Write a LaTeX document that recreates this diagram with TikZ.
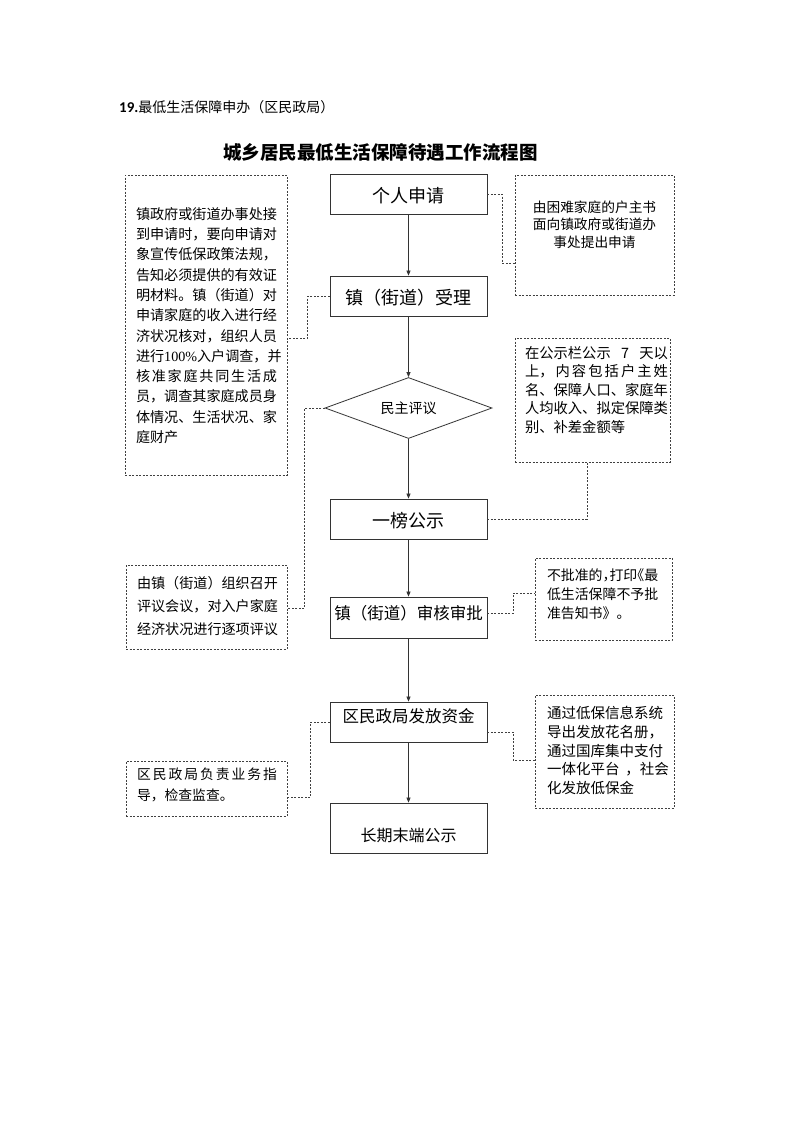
\documentclass[tikz,border=0pt]{standalone}
\usepackage{fontspec}
\setmainfont{Noto Sans CJK SC}
\newfontfamily\latinfont{Carlito}
\newfontfamily\serifnum{Liberation Serif}
\usetikzlibrary{arrows.meta,shapes.geometric,fit}
\newcommand{\spreadline}[2]{\makebox[#1][s]{\spaceskip=0pt plus 1fil\relax #2}}

\begin{document}
\begin{tikzpicture}[x=1pt,y=-1pt,
  mainbox/.style={draw=black!80,line width=0.8pt,minimum width=157pt,
        minimum height=40pt,inner sep=0pt,font=\fontsize{18}{20}\selectfont,
        text height=19pt,text depth=1.5pt},
  notebox/.style={draw=black!75,line width=0.7pt,dash pattern=on 2pt off 1.5pt,
        inner sep=0pt},
  notetext/.style={inner sep=0pt,align=left},
  flow/.style={draw=black!80,line width=0.7pt,-{Triangle[length=5pt,width=4pt]}},
  link/.style={draw=black!75,line width=0.7pt,dash pattern=on 2pt off 1.5pt}]
  \path[fill=white,use as bounding box] (0,0) rectangle (793,1122);

  %% headings
  \node[anchor=west,inner sep=0pt,font=\fontsize{14}{16}\selectfont] (header) at (119,107)
        {{\latinfont\fontsize{15}{16}\selectfont\bfseries 19.}最低生活保障申办（区民政局）};
  \node[inner sep=0pt,font=\fontsize{18.5}{20}\selectfont\bfseries] (title) at (380.5,152)
        {城乡居民最低生活保障待遇工作流程图};

  %% main flow
  \node[mainbox] (apply) at (408.5,194) {个人申请};
  \node[mainbox] (accept) at (408.5,296) {镇（街道）受理};
  \node[draw=black!80,line width=0.8pt,diamond,aspect=2.7,minimum width=167pt,
        minimum height=61pt,inner sep=0pt,font=\fontsize{14}{16}\selectfont]
        (review) at (408.5,408) {民主评议};
  \node[mainbox] (publicize) at (408.5,519) {一榜公示};
  \node[mainbox,minimum height=41pt,font=\fontsize{16.5}{18}\selectfont,
        text height=12pt,text depth=8.4pt] (approve) at (408.5,617.5) {镇（街道）审核审批};
  \node[mainbox,font=\fontsize{16.5}{18}\selectfont,
        text height=12pt,text depth=10.6pt] (fund) at (408.5,722) {区民政局发放资金};
  \node[mainbox,minimum height=50pt,font=\fontsize{16}{18}\selectfont,
        text height=30pt,text depth=3.4pt] (final) at (408.5,828) {长期末端公示};

  \draw[flow] (apply) -- (accept);
  \draw[flow] (accept) -- (review);
  \draw[flow] (review) -- (publicize);
  \draw[flow] (publicize) -- (approve);
  \draw[flow] (approve) -- (fund);
  \draw[flow] (fund) -- (final);

  %% notes left
  \node[notebox,fit={(125,175) (287,475)}] (note1) {};
  \node[notetext,text width=141pt,font=\fontsize{14.1}{20.3}\selectfont] (note1text) at (206.5,325.5)
        {镇政府或街道办事处接\\到申请时，要向申请对\\象宣传低保政策法规，\\告知必须提供的有效证\\
         明材料。镇（街道）对\\申请家庭的收入进行经\\济状况核对，组织人员\\
         \spreadline{141pt}{进行 {\serifnum 100\%}入户调查，并}\\
         \spreadline{141pt}{核 准 家 庭 共 同 生 活 成}\\
         员，调查其家庭成员身\\体情况、生活状况、家\\庭财产};
  \node[notebox,fit={(126,565) (287,649)}] (note4) {};
  \node[notetext,text width=141pt,font=\fontsize{14.1}{23}\selectfont] (note4text) at (207.5,606)
        {由镇（街道）组织召开\\评议会议，对入户家庭\\经济状况进行逐项评议};
  \node[notebox,fit={(126,761) (287,816)}] (note6) {};
  \node[notetext,text width=140pt,font=\fontsize{13.8}{21}\selectfont] (note6text) at (207,784.5)
        {\spreadline{140pt}{区 民 政 局 负 责 业 务 指}\\导，检查监查。};

  %% notes right
  \node[notebox,fit={(515,175) (674,295)}] (note2) {};
  \node[notetext,align=center,font=\fontsize{13.7}{17.5}\selectfont] (note2text) at (594.5,224.5)
        {由困难家庭的户主书\\面向镇政府或街道办\\事处提出申请};
  \node[notebox,fit={(515,338) (670,462)}] (note3) {};
  \node[notetext,text width=143pt,font=\fontsize{14.3}{18.5}\selectfont] (note3text) at (596.5,390)
        {\spreadline{143pt}{在公示栏公示 7 天以}\\\spreadline{143pt}{上， 内 容 包 括 户 主 姓}\\
         名、保障人口、家庭年\\人均收入、拟定保障类\\别、补差金额等};
  \node[notebox,fit={(535,558) (672,640)}] (note5) {};
  \node[notetext,text width=112pt,font=\fontsize{13.9}{19}\selectfont] (note5text) at (603,594)
        {不批准的\makebox[0.5em][l]{，}打印\makebox[0.5em][r]{《}最\\低生活保障不予批\\准告知书》。};
  \node[notebox,fit={(535,695) (674,808)}] (note7) {};
  \node[notetext,text width=122pt,font=\fontsize{14.5}{18.7}\selectfont] (note7text) at (608,750.5)
        {通过低保信息系统\\导出发放花名册，\\通过国库集中支付\\
         \spreadline{122pt}{一体化平台~，社会}\\化发放低保金};

  %% dashed links
  \draw[link] (apply.east) -- ++(15,0) |- (note2.west |- 0,263);
  \draw[link] (accept.west) -- ++(-22,0) |- (note1.east |- 0,338);
  \draw[link] (review.west) -- ++(-20,0) |- (note4.east |- 0,608);
  \draw[link] (publicize.east) -| (note3.south -| 587,0);
  \draw[link] (approve.east |- 0,613) -- ++(26,0) |- (note5.west |- 0,593);
  \draw[link] (fund.west) -- ++(-19,0) |- (note6.east |- 0,797);
  \draw[link] (fund.east |- 0,732) -- ++(26,0) |- (note7.west |- 0,760);
\end{tikzpicture}
\end{document}
